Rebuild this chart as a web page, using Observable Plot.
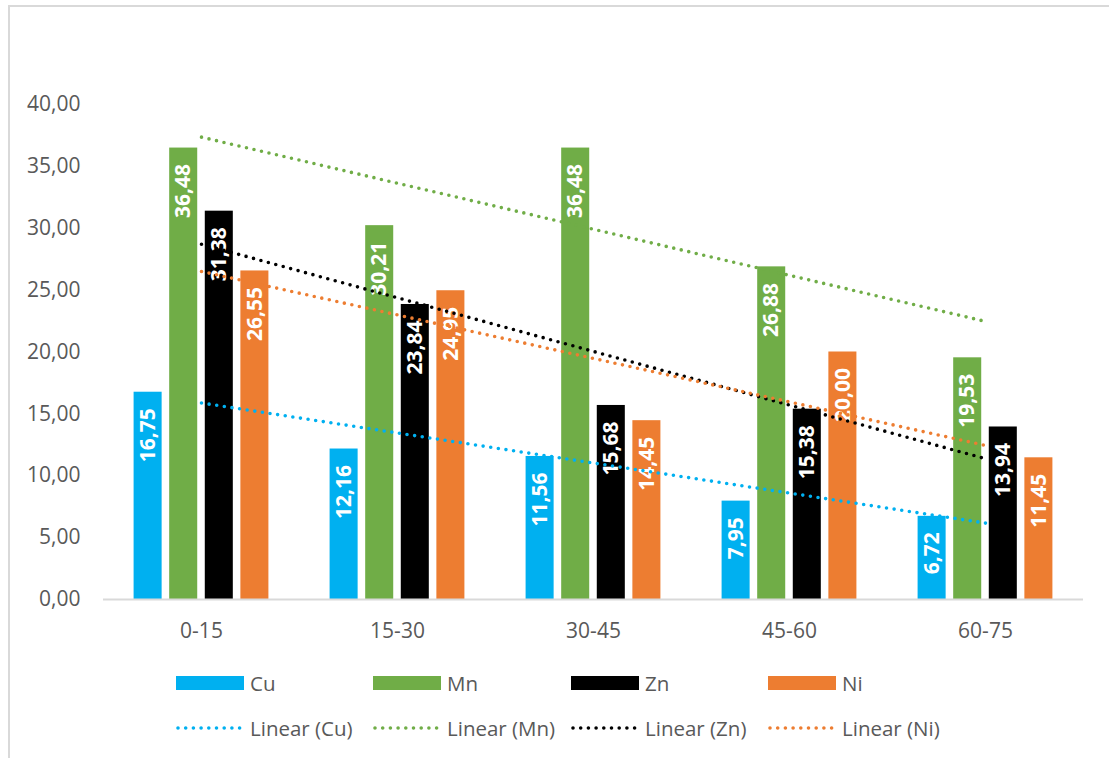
<!DOCTYPE html>
<html>
<head>
<meta charset="utf-8">
<script src="https://cdn.jsdelivr.net/npm/d3@7"></script>
<script src="https://cdn.jsdelivr.net/npm/@observablehq/plot@0.6"></script>
<style>
  html, body { margin: 0; padding: 0; background: #fff; }
  #wrap { position: relative; width: 1109px; height: 758px; overflow: hidden; font-family: "Open Sans", sans-serif; }
  #border { position: absolute; left: 8px; top: 5px; width: 1200px; height: 900px; border: 2px solid #d9d9d9; box-sizing: border-box; }
  #chart { position: absolute; left: 0; top: 0; }
  .lg { position: absolute; display: flex; align-items: center; font-size: 20.5px; color: #595959; white-space: nowrap; }
  .sw { width: 68px; height: 14px; margin-right: 6px; }
  .lg svg { margin-right: 8px; }
</style>
</head>
<body>
<div id="wrap">
  <div id="border"></div>
  <div id="chart"></div>
  <div id="legend"></div>
</div>
<script>
const categories = ["0-15", "15-30", "30-45", "45-60", "60-75"];
const metals = ["Cu", "Mn", "Zn", "Ni"];
const Cu = [16.75, 12.16, 11.56, 7.95, 6.72];
const Mn = [36.48, 30.21, 36.48, 26.88, 19.53];
const Zn = [31.38, 23.84, 15.68, 15.38, 13.94];
const Ni = [26.55, 24.95, 14.45, 20.00, 11.45];
const colors = ["#00B0F0", "#70AD47", "#000000", "#ED7D31"];
const yTicks = [0, 5, 10, 15, 20, 25, 30, 35, 40];

const series = {Cu, Mn, Zn, Ni};
const fmt = d => d.toFixed(2).replace(".", ",");

// grouped bars placed on a numeric category index scale
const barW = 0.143, step = 0.1816;
const bars = [];
metals.forEach((m, j) => {
  series[m].forEach((v, i) => {
    const xc = i + (j - 1.5) * step;
    bars.push({metal: m, cat: categories[i], i, xc, x1: xc - barW / 2, x2: xc + barW / 2, value: v});
  });
});

// linear trendlines (least squares over category index)
const trend = [];
metals.forEach(m => {
  const ys = series[m];
  const mx = d3.mean(ys, (_, i) => i);
  const my = d3.mean(ys);
  const b = d3.sum(ys, (y, i) => (i - mx) * (y - my)) / d3.sum(ys, (_, i) => (i - mx) ** 2);
  const a = my - b * mx;
  ys.forEach((_, i) => trend.push({metal: m, i, y: a + b * i}));
});

const colorOf = m => colors[metals.indexOf(m)];

const chart = Plot.plot({
  width: 1109,
  height: 650,
  marginLeft: 103,
  marginRight: 26,
  marginTop: 104,
  marginBottom: 51,
  style: {fontFamily: "Open Sans, sans-serif", fontSize: "21px", color: "#595959", background: "transparent"},
  x: {domain: [-0.5, 4.5], axis: null},
  y: {domain: [0, 40], axis: null},
  marks: [
    Plot.axisX({ticks: [0, 1, 2, 3, 4], tickFormat: i => categories[i], tickSize: 0, tickPadding: 24, fontSize: 21, fill: "#595959"}),
    Plot.axisY({ticks: yTicks, tickFormat: fmt, tickSize: 0, tickPadding: 23, fontSize: 21, fill: "#595959"}),
    Plot.rectY(bars, {x1: "x1", x2: "x2", y1: 0, y2: "value", fill: d => colorOf(d.metal)}),
    Plot.ruleY([0], {stroke: "#d9d9d9", strokeWidth: 2}),
    Plot.text(bars, {x: "xc", y: "value", text: d => fmt(d.value), rotate: -90, textAnchor: "end", dy: 16, fill: "white", fontSize: 21, fontWeight: "bold"}),
    Plot.lineY(trend, {x: "i", y: "y", z: "metal", stroke: d => colorOf(d.metal), strokeWidth: 3.6, strokeDasharray: "0 7.7", strokeLinecap: "round"})
  ]
});
document.getElementById("chart").appendChild(chart);

// legend
const lg = document.getElementById("legend");
const lx = [176, 373, 571, 768];
metals.forEach((m, j) => {
  const a = document.createElement("div");
  a.className = "lg";
  a.style.left = lx[j] + "px";
  a.style.top = (683 - 14) + "px";
  a.style.height = "28px";
  a.innerHTML = `<div class="sw" style="background:${colors[j]}"></div><span>${m}</span>`;
  lg.appendChild(a);
  const b = document.createElement("div");
  b.className = "lg";
  b.style.left = lx[j] + "px";
  b.style.top = (728 - 14) + "px";
  b.style.height = "28px";
  b.innerHTML = `<svg width="66" height="8"><line x1="2" x2="64" y1="4" y2="4" stroke="${colors[j]}" stroke-width="3.6" stroke-dasharray="0 7.7" stroke-linecap="round"/></svg><span>Linear (${m})</span>`;
  lg.appendChild(b);
});
</script>
</body>
</html>
